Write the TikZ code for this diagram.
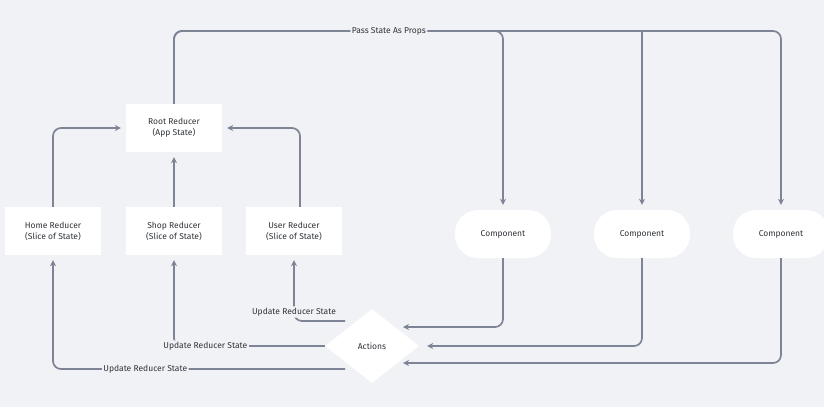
\documentclass[tikz,border=0pt]{standalone}
\usepackage{fontspec}
\setmainfont{Fira Sans}
\usetikzlibrary{arrows.meta,shapes.geometric}

\definecolor{bg}{HTML}{F1F2F5}
\definecolor{wire}{HTML}{7C8496}
\definecolor{ink}{HTML}{2F3338}

\tikzset{
  box/.style={fill=white, minimum width=96pt, minimum height=48pt, align=center,
    font=\fontsize{8.5}{11}\selectfont, text=ink},
  comp/.style={box, rounded corners=23pt, minimum height=48pt},
  link/.style={draw=wire, line width=1.7pt, rounded corners=8pt,
    -{Stealth[length=6pt,width=6pt]}, shorten >=5pt},
  lbl/.style={fill=bg, inner sep=1.5pt, font=\fontsize{8.5}{10}\selectfont, text=ink}
}

\begin{document}
\begin{tikzpicture}[x=1pt,y=-1pt]
   \fill[bg] (0,0) rectangle (824,407);
   \useasboundingbox (0,0) rectangle (824,407);
   % reducers
   \node[box] (root) at (174,128) {Root Reducer\\(App State)};
   \node[box] (home) at (53,231) {Home Reducer\\(Slice of State)};
   \node[box] (shop) at (174,231) {Shop Reducer\\(Slice of State)};
   \node[box] (user) at (294,231) {User Reducer\\(Slice of State)};
   % components and actions
   \node[comp] (c1) at (503,234) {Component};
   \node[comp] (c2) at (642,234) {Component};
   \node[comp] (c3) at (781,234) {Component};
   \node[box,diamond,minimum width=94pt,minimum height=74pt,inner sep=0pt] (act) at (372,346) {Actions};

   \draw[link] (home.north) |- (root.west);
   \draw[link] (shop.north) -- (root.south);
   \draw[link] ([xshift=6pt]user.north) |- (root.east);

   % state goes down to the components
   \coordinate (bus) at (174,31);
   \draw[link] (root.north) -- (root.north |- bus) -| (c1.north);
   \draw[link] (c2.north |- bus) -- (c2.north);
   \draw[link] (root.north) -- (root.north |- bus) -| node[lbl,pos=0.177] (props) {Pass State As Props} (c3.north);

   % components fire actions
   \coordinate (b1) at ([shift={(26,-19)}]act.center);
   \coordinate (b3) at ([shift={(26,17)}]act.center);
   \draw[link] (c1.south) |- (b1);
   \draw[link] (c2.south) |- ([xshift=3pt]act.east);
   \draw[link] (c3.south) |- (b3);

   % actions update the reducers
   \coordinate (a1) at ([shift={(-27,-25)}]act.center);
   \coordinate (a3) at ([shift={(-27,23)}]act.center);
   \draw[link] (a1) -| node[lbl,pos=0.568] (u1) {Update Reducer State} (user.south);
   \draw[link] (act.west) -| node[lbl,pos=0.396] (u2) {Update Reducer State} (shop.south);
   \draw[link] (a3) -| node[lbl,pos=0.342] (u3) {Update Reducer State} (home.south);
\end{tikzpicture}
\end{document}
